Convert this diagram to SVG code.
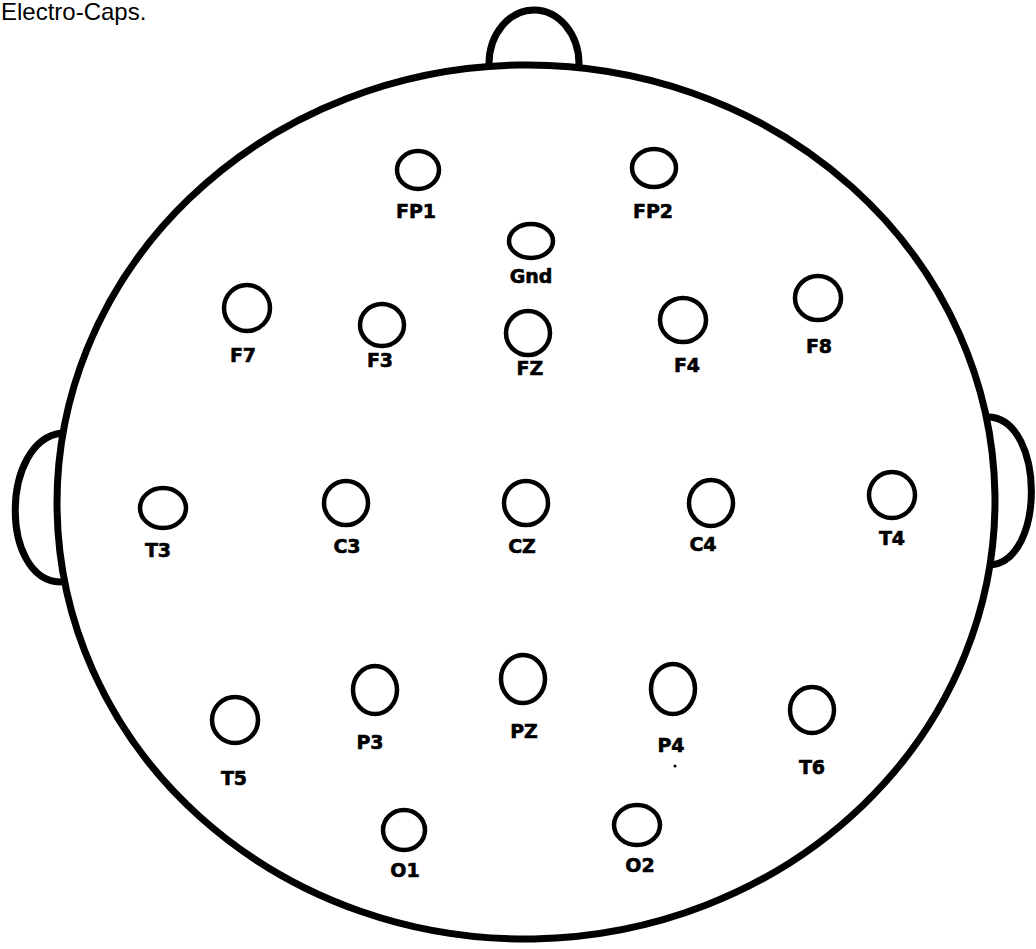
<svg xmlns="http://www.w3.org/2000/svg" width="1036" height="949" viewBox="0 0 1036 949">
<style>
.head{fill:none;stroke:#000;stroke-width:7;stroke-linecap:round}
.el{fill:none;stroke:#000;stroke-width:4.5}
.lb{font-family:"DejaVu Sans",sans-serif;font-weight:bold;font-size:19px;fill:#000;stroke:#000;stroke-width:0.6;text-anchor:middle}
.title{font-family:"Liberation Sans",Arial,sans-serif;font-size:24px;fill:#000}
</style>
<rect width="1036" height="949" fill="#fff"/>
<text class="title" x="1" y="20">Electro-Caps.</text>
<g id="head">
<ellipse class="head" cx="526" cy="502" rx="469" ry="437" transform="rotate(-1 526 502)"/>
<path id="nose" class="head" d="M489 64 A45 54 0 0 1 579 64"/>
<path id="ear-left" class="head" d="M62 433 C0 440 0 580 60 582"/>
<path id="ear-right" class="head" d="M990 417 C1045 422 1045 560 991 565"/>
</g>
<g id="connectors"/>
<g id="FP1"><ellipse class="el" cx="418" cy="170" rx="21" ry="19"/><text class="lb" x="416" y="218">FP1</text></g>
<g id="FP2"><ellipse class="el" cx="654" cy="168" rx="22" ry="19"/><text class="lb" x="653" y="218">FP2</text></g>
<g id="Gnd"><ellipse class="el" cx="531" cy="241" rx="22" ry="17"/><text class="lb" x="531" y="283">Gnd</text></g>
<g id="F7"><ellipse class="el" cx="247" cy="308" rx="23" ry="23"/><text class="lb" x="243" y="362">F7</text></g>
<g id="F3"><ellipse class="el" cx="382" cy="325" rx="22" ry="21"/><text class="lb" x="380" y="367">F3</text></g>
<g id="FZ"><ellipse class="el" cx="528" cy="333" rx="22" ry="22"/><text class="lb" x="530" y="375">FZ</text></g>
<g id="F4"><ellipse class="el" cx="683" cy="320" rx="23" ry="22"/><text class="lb" x="687" y="372">F4</text></g>
<g id="F8"><ellipse class="el" cx="818" cy="298" rx="23" ry="22"/><text class="lb" x="819" y="353">F8</text></g>
<g id="T3"><ellipse class="el" cx="163" cy="508" rx="23" ry="20"/><text class="lb" x="158" y="557">T3</text></g>
<g id="C3"><ellipse class="el" cx="346" cy="503" rx="22" ry="22"/><text class="lb" x="347" y="553">C3</text></g>
<g id="CZ"><ellipse class="el" cx="526" cy="503" rx="22" ry="22"/><text class="lb" x="522" y="553">CZ</text></g>
<g id="C4"><ellipse class="el" cx="711" cy="503" rx="22" ry="23"/><text class="lb" x="703" y="551">C4</text></g>
<g id="T4"><ellipse class="el" cx="892" cy="495" rx="23" ry="23"/><text class="lb" x="892" y="545">T4</text></g>
<g id="T5"><ellipse class="el" cx="235" cy="720" rx="23" ry="23"/><text class="lb" x="234" y="785">T5</text></g>
<g id="P3"><ellipse class="el" cx="375" cy="690" rx="22" ry="24"/><text class="lb" x="370" y="749">P3</text></g>
<g id="PZ"><ellipse class="el" cx="523" cy="679" rx="22" ry="24"/><text class="lb" x="524" y="738">PZ</text></g>
<g id="P4"><ellipse class="el" cx="673" cy="689" rx="22" ry="25"/><text class="lb" x="671" y="752">P4</text><circle cx="675" cy="766" r="1.5" fill="#000"/></g>
<g id="T6"><ellipse class="el" cx="812" cy="710" rx="22" ry="23"/><text class="lb" x="812" y="774">T6</text></g>
<g id="O1"><ellipse class="el" cx="404" cy="830" rx="21" ry="20"/><text class="lb" x="405" y="877">O1</text></g>
<g id="O2"><ellipse class="el" cx="637" cy="825" rx="23" ry="20"/><text class="lb" x="640" y="872">O2</text></g>
</svg>
